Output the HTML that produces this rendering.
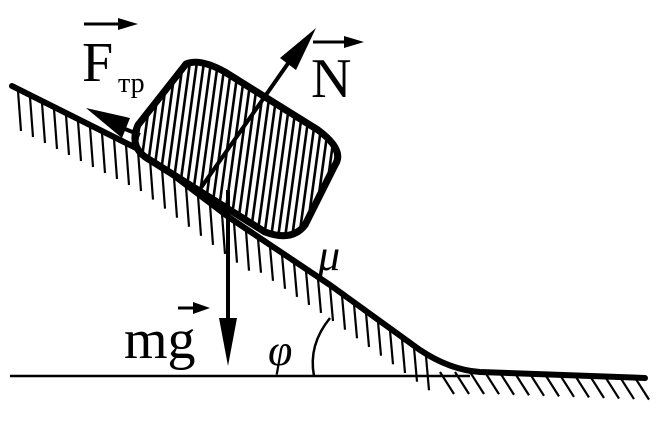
<!DOCTYPE html>
<html><head><style>
html,body{margin:0;padding:0;background:#fff;width:664px;height:433px;overflow:hidden}
svg{display:block}
text{font-family:"Liberation Serif",serif;fill:#000}
</style></head><body>
<svg id="s" width="664" height="433" viewBox="0 0 664 433">
<defs><clipPath id="cp"><path d="M186,64 Q200,58 225,72 L318,130 Q345,150 335,165 L305,225 Q292,242 265,232 L150,160 Q128,148 138,125 Z"/></clipPath></defs>
<g id="h" stroke="#000" stroke-width="2.2" fill="none"></g>
<line x1="10" y1="376" x2="470" y2="376" stroke="#000" stroke-width="2.5"/>
<path d="M12,86 L140,150 L230,218 L330,285 L420,350 Q450,370 480,372 L645,378" stroke="#000" stroke-width="6" fill="none" stroke-linecap="round"/>
<path d="M314,376 Q308,345 330,318" stroke="#000" stroke-width="2.5" fill="none"/>
<path d="M186,64 Q200,58 225,72 L318,130 Q345,150 335,165 L305,225 Q292,242 265,232 L150,160 Q128,148 138,125 Z" fill="#fff" stroke="#000" stroke-width="7" stroke-linejoin="round"/>
<g id="b" stroke="#000" stroke-width="2.6" clip-path="url(#cp)"></g>
<line x1="198" y1="192" x2="296" y2="52" stroke="#000" stroke-width="4"/>
<polygon points="316,28 280,58 296,70" fill="#000"/>
<line x1="140" y1="135" x2="110" y2="123" stroke="#000" stroke-width="4"/>
<polygon points="86,108 130,118 122,138" fill="#000"/>
<line x1="228" y1="190" x2="228" y2="330" stroke="#000" stroke-width="4"/>
<polygon points="219,318 237,318 228,366" fill="#000"/>
<text x="82" y="81" font-size="56">F</text>
<text x="118" y="92" font-size="28">тр</text>
<line x1="84" y1="24" x2="128" y2="24" stroke="#000" stroke-width="3"/><polygon points="138,24 118,18 118,30" fill="#000"/>
<text x="311" y="97" font-size="56">N</text>
<line x1="313" y1="42" x2="355" y2="42" stroke="#000" stroke-width="3"/><polygon points="364,42 344,36 344,48" fill="#000"/>
<text x="124" y="358" font-size="56">mg</text>
<line x1="178" y1="308" x2="202" y2="308" stroke="#000" stroke-width="3"/><polygon points="210,308 193,302 193,314" fill="#000"/>
<text x="268" y="365" font-size="44" font-style="italic">φ</text>
<text x="318" y="270" font-size="44" font-style="italic">μ</text>
</svg>
<script>
var h=document.getElementById('h'),ns='http://www.w3.org/2000/svg';
function L(g,x1,y1,x2,y2){var l=document.createElementNS(ns,'line');l.setAttribute('x1',x1);l.setAttribute('y1',y1);l.setAttribute('x2',x2);l.setAttribute('y2',y2);g.appendChild(l);}
function slopeY(x){if(x<140)return 86+(x-12)*64/128;if(x<230)return 150+(x-140)*68/90;if(x<330)return 218+(x-230)*67/100;return 285+(x-330)*65/90;}
for(var x=18;x<430;x+=12){var y=slopeY(x);L(h,x,y+2,x+3,y+(x<250?42:36));}
for(var x=440;x<650;x+=15){var y=x<480?372:372+(x-480)*6/165;L(h,x,y,x+14,y+22);}
var b=document.getElementById('b');
for(var x0=130;x0<360;x0+=7){L(b,x0,40,x0-30,260);}
</script>
</body></html>
